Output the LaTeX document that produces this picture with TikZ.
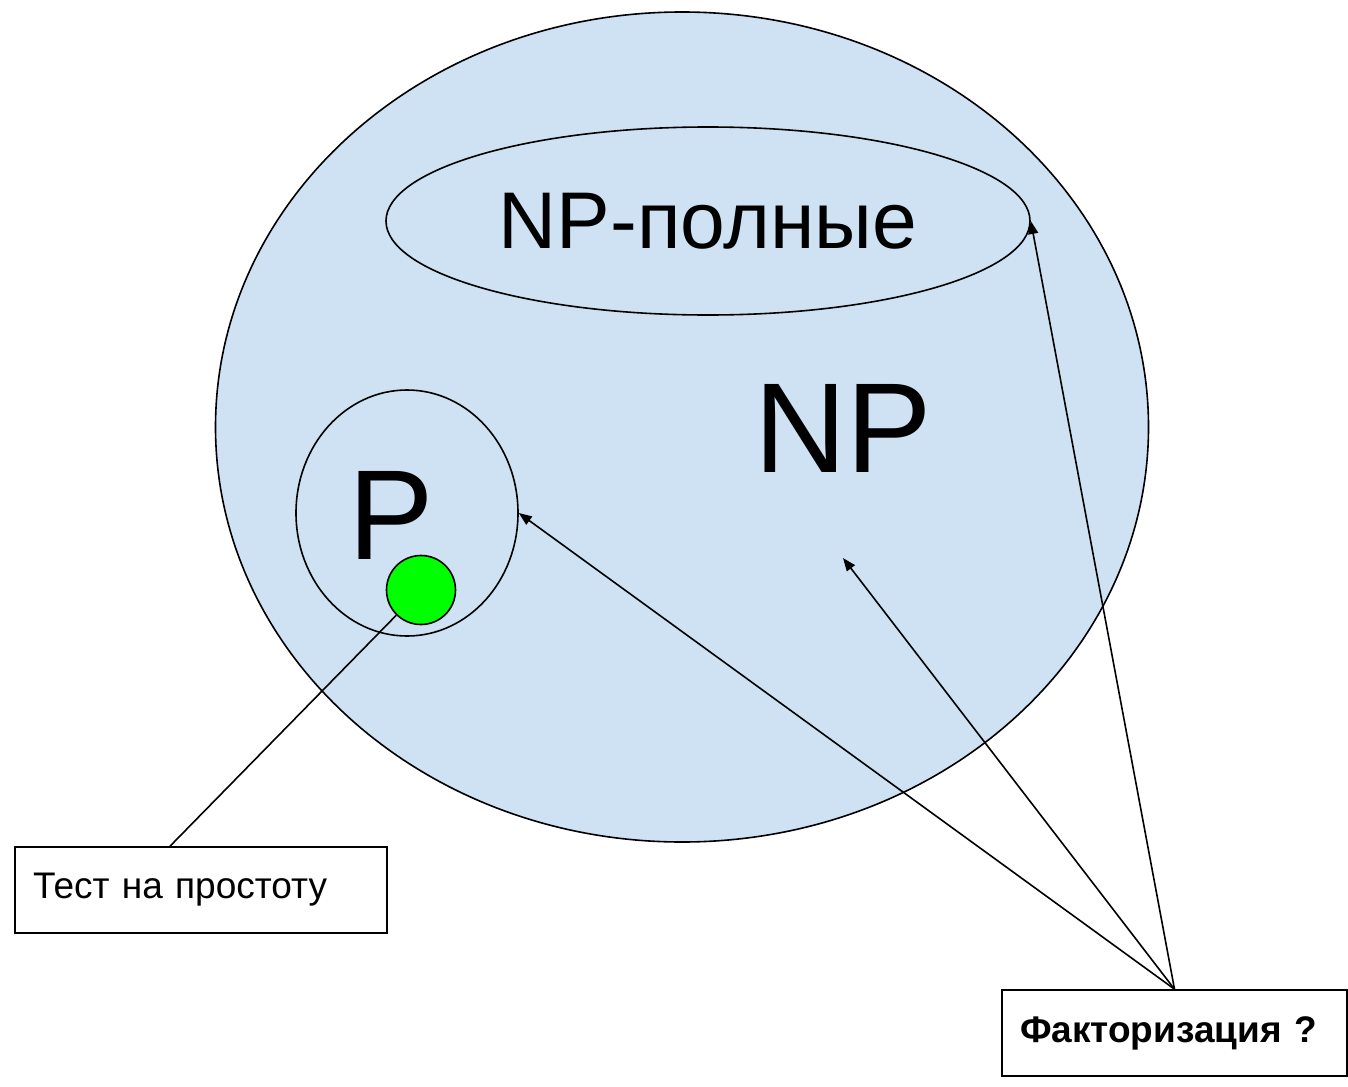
\documentclass[tikz,border=0pt]{standalone}
\usepackage{fontspec}
\setmainfont{Liberation Sans}
\usetikzlibrary{arrows.meta, shapes.geometric}
\definecolor{setblue}{HTML}{CFE2F3}
\definecolor{dotgreen}{HTML}{00FF00}
\tikzset{
    set/.style={ellipse, draw, line width=0.8pt, inner sep=0pt}, % contour of a class
    callout/.style={rectangle, draw, line width=0.8pt, minimum height=43pt, inner xsep=9pt, align=left}, % text box
    pointer/.style={line width=0.8pt, -{Triangle[length=6.5pt, width=5pt]}}
}

\begin{document}
\begin{tikzpicture}[x=0.5pt, y=-0.5pt]
            \useasboundingbox (0,0) rectangle (1348,1086);

            \node[set, fill=setblue, minimum width=466.5pt, minimum height=415pt] (np) at (682,427) {};
            \node[set, minimum width=322pt, minimum height=94pt, font=\fontsize{40.2}{42}\selectfont] (npc) at (708,221) {NP-полные};
            \node[font=\fontsize{64}{66}\selectfont] (nplabel) at (843,428) {NP};

            \node[set, minimum width=111pt, minimum height=123pt] (p) at (407,513) {};
            \node[font=\fontsize{64}{66}\selectfont] (plabel) at (391,515) {P};
            \node[circle, draw, fill=dotgreen, line width=0.8pt, minimum size=34.5pt, inner sep=0pt] (dot) at (421,590) {};

            \node[callout, text width=168pt, font=\fontsize{18.5}{20}\selectfont] (test) at (201,890) {Тест на простоту};
            \node[callout, text width=154.5pt, font=\fontsize{18.5}{20}\selectfont\bfseries] (fact) at (1174.5,1033) {Факторизация ?};

            \coordinate (inside) at (843,558);

            \draw[line width=0.8pt] ([xshift=-15.5pt]test.north) -- (dot);
            \draw[pointer] (fact.north) -- (p.east);
            \draw[pointer] (fact.north) -- (inside);
            \draw[pointer] (fact.north) -- (npc.east);
        \end{tikzpicture}
\end{document}
